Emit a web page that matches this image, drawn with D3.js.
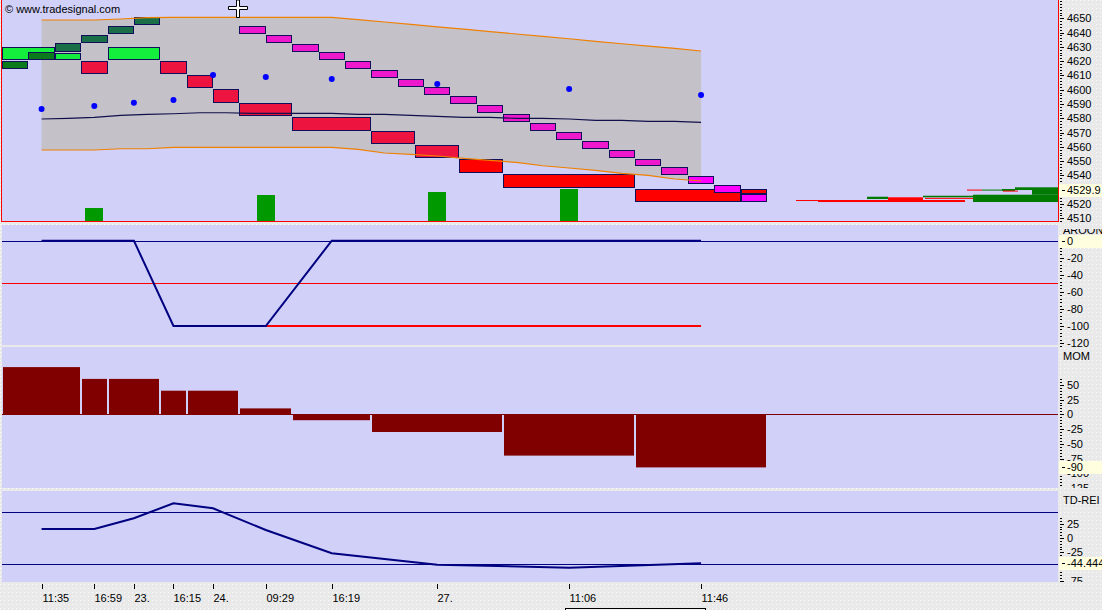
<!DOCTYPE html>
<html>
<head>
<meta charset="utf-8">
<script src="https://cdn.jsdelivr.net/npm/d3@7"></script>
<style>
  html, body { margin: 0; padding: 0; background: #e9e9e9; }
  svg { display: block; font-family: "Liberation Sans", Arial, sans-serif; font-size: 11px; }
</style>
</head>
<body>
<div id="chart"></div>
<script>
const W = 1102, H = 610;
const PLOT_L = 2, PLOT_R = 1058, AXIS_X = 1059;

// —— data ——
const timeSlots = [1.5, 3.5, 5, 6.5, 8, 10, 12.5, 16.5, 21.5, 26.5];
const timeLabels = ["11:35", "16:59", "23.", "16:15", "24.", "09:29", "16:19", "27.", "11:06", "11:46"];

// wide reversal boxes
const bigFrom = [0, 2, 3, 4, 6, 7, 8, 9, 11, 14, 15.65, 17.33, 19, 24, 28];
const bigTo = [2, 3, 4, 6, 7, 8, 9, 11, 14, 15.65, 17.33, 19, 24, 28, 29];
const bigLow = [4620.5, 4620.5, 4611, 4620.5, 4611, 4601, 4591, 4581.4, 4571.3, 4561.8, 4552, 4541.5, 4531, 4521.2, 4527.2];
const bigHigh = [4630, 4626, 4620, 4630, 4620, 4610.3, 4600.3, 4590.5, 4580.7, 4570.9, 4561.1, 4551.3, 4540.8, 4530.3, 4530.3];
const bigKind = ["up", "up", "down", "up", "down", "down", "down", "down", "down", "down", "down", "down2", "down2", "down2", "down2"];

// small step boxes (one slot wide)
const stepSlot = [0, 1, 2, 3, 4, 5, 9, 10, 11, 12, 13, 14, 15, 16, 17, 18, 19, 20, 21, 22, 23, 24, 25, 26, 27, 28];
const stepLow = [4614.2, 4620.6, 4626.6, 4632.7, 4638.8, 4645.1,
  4638.8, 4632.7, 4626.6, 4620.6, 4614.2, 4608.2, 4602.0, 4596.0, 4590.0, 4583.7,
  4577.4, 4571.1, 4564.8, 4558.5, 4552.2, 4546.4, 4540.3, 4534.0, 4527.7, 4521.2];
const stepHigh = [4620.1, 4626.2, 4632.5, 4638.3, 4644.4, 4650.7,
  4644.4, 4638.3, 4632.2, 4626.2, 4620.1, 4613.8, 4607.5, 4601.7, 4595.6, 4589.3,
  4583.0, 4576.7, 4570.4, 4564.1, 4557.8, 4551.5, 4545.9, 4539.6, 4533.3, 4527.0];
const stepKind = ["up1", "up1", "up2", "up2", "up2", "up2",
  "dn", "dn", "dn", "dn", "dn", "dn", "dn", "dn", "dn", "dn",
  "dn", "dn", "dn", "dn", "dn", "dn", "dn", "dn2", "dn2", "dn2"];

// envelope band
const bandSlots = [1.5, 2.5, 3.5, 4.5, 5.5, 6.5, 7.5, 8.5, 9.5, 10.5, 11.5, 12.5, 13.5,
  14.5, 15.5, 16.5, 17.5, 18.5, 19.5, 20.5, 21.5, 22.5, 23.5, 24.5, 25.5, 26.5];
const bandUpper = [4648.8, 4648.8, 4648.8, 4649.5, 4650.5, 4650.7, 4650.7, 4650.7, 4650.7, 4650.7, 4650.7, 4650.6, 4649.1,
  4647.4, 4645.7, 4644.0, 4642.4, 4640.7, 4639.0, 4637.3, 4635.7, 4633.9, 4632.2, 4630.5, 4628.9, 4627.1];
const bandLower = [4557.8, 4557.8, 4557.8, 4558.7, 4558.7, 4559.7, 4559.7, 4559.7, 4559.7, 4559.7, 4559.7, 4559.6, 4558.2,
  4555.7, 4554.8, 4553.6, 4551.9, 4550.5, 4549.1, 4546.8, 4545.2, 4543.5, 4541.4, 4540.0, 4537.5, 4536.1];
const bandMid = [4579.5, 4580.0, 4580.7, 4582.1, 4582.8, 4583.2, 4583.9, 4583.9, 4583.5, 4583.5, 4583.5, 4583.5, 4582.8,
  4582.7, 4582.1, 4581.4, 4580.7, 4580.7, 4580.0, 4580.0, 4579.5, 4578.6, 4578.6, 4577.9, 4577.9, 4577.2];

const dotValues = [4586.5, 4588.6, 4590.9, 4592.8, 4610.3, 4608.9, 4607.5, 4604.0, 4600.5, 4596.3];

const signalSlots = [3.5, 10, 16.5, 21.5];
const signalValues = [14, 27, 30, 33];

// price profile at right edge (distance from right border)
const profLow = [4522.2, 4521.4, 4523.5, 4522.6, 4524.7, 4523.8, 4521.4, 4526.5, 4529.8, 4529.1, 4528.9, 4529.6, 4529.6];
const profHigh = [4522.8, 4522.8, 4525.1, 4524.7, 4525.8, 4524.3, 4526.5, 4531.7, 4531.7, 4530.5, 4529.4, 4530.1, 4530.1];
const profFar = [262, 240, 191, 170, 135, 133, 85, 26, 43, 56, 55, 91, 76];
const profNear = [240, 93, 170, 135, 85, 85, 0, 0, 26, 43, 40, 76, 56];
const profKind = ["dn", "dn", "up", "dn", "up", "dn", "up", "up", "up", "up", "dn", "dn", "up"];

const aroonValues = [0, 0, 0, -100, -100, -100, 0, 0, 0, 0];
const aroonDown = [null, null, null, null, null, -100, -100, -100, -100, -100];

const momFrom = [0, 3, 4, 6, 7, 9, 11, 14, 19, 24];
const momTo = [3, 4, 6, 7, 9, 11, 14, 19, 24, 29];
const momValues = [80, 60, 60, 40, 40, 10, -10, -30, -70, -90];

const reiValues = [15.8, 15.8, 34.6, 60.9, 52.1, 14, -26.8, -46.8, -52.1, -44.444];

const mainTicks = [4650, 4640, 4630, 4620, 4610, 4600, 4590, 4580, 4570, 4560, 4550, 4540, 4520, 4510];
const aroonTicks = [-20, -40, -60, -80, -100, -120];
const momTicks = [50, 25, 0, -25, -50, -75, -100, -125];
const reiTicks = [25, 0, -25, -75];

const COLORS = {
  bg: "#d0d0f8",
  band: "#c4c1c9",
  orange: "#f08000",
  navy: "#000080",
  mid: "#10104a",
  edge: "#10105a",
  up: "#14ee3c",
  down: "#ee1440",
  down2: "#ff0000",
  up1: "#0a7a1c",
  up2: "#1a6e48",
  dn: "#ee18cc",
  dn2: "#ff00ff",
  profUp: "#007a00",
  profDn: "#ff0000",
  signal: "#009a00",
  mom: "#800000",
  red: "#ff0000",
};

const PANELS = {
  main: { y0: 0, y1: 222 },
  aroon: { y0: 225, y1: 345 },
  mom: { y0: 347, y1: 488 },
  rei: { y0: 491, y1: 582 },
};

// —— scales ——
const x = d3.scaleLinear().domain([0, 29]).range([2, 767]);
const yMain = d3.scaleLinear().domain([4510, 4650]).range([218.3, 18.3]);
const yAroon = d3.scaleLinear().domain([0, -100]).range([240.7, 326]);
const yMom = d3.scaleLinear().domain([0, -100]).range([414.3, 473.3]);
const yRei = d3.scaleLinear().domain([0, -100]).range([538, 595]);
const ySignal = d3.scaleLinear().domain([0, 50]).range([222, 172]);
const xProf = d3.scaleLinear().domain([0, 300]).range([PLOT_R, PLOT_R - 300]);

const svg = d3.select("#chart").append("svg")
  .attr("width", W).attr("height", H)
  .attr("viewBox", `0 0 ${W} ${H}`);

// dotted grey background for axis areas
const defs = svg.append("defs");
const pat = defs.append("pattern").attr("id", "dots")
  .attr("width", 4).attr("height", 4).attr("patternUnits", "userSpaceOnUse");
pat.append("rect").attr("width", 4).attr("height", 4).attr("fill", "#e9e9e9");
pat.append("rect").attr("width", 1).attr("height", 1).attr("fill", "#fbfbfb");

svg.append("rect").attr("width", W).attr("height", H).attr("fill", "url(#dots)");

// panel backgrounds + clips
Object.entries(PANELS).forEach(([key, p]) => {
  svg.append("rect")
    .attr("x", PLOT_L).attr("y", p.y0)
    .attr("width", PLOT_R - PLOT_L).attr("height", p.y1 - p.y0)
    .attr("fill", COLORS.bg);
  defs.append("clipPath").attr("id", `clip-${key}`)
    .append("rect").attr("x", PLOT_L).attr("y", p.y0)
    .attr("width", PLOT_R - PLOT_L).attr("height", p.y1 - p.y0);
  defs.append("clipPath").attr("id", `clipax-${key}`)
    .append("rect").attr("x", AXIS_X).attr("y", p.y0 + (key === "aroon" ? 4 : 0))
    .attr("width", W - AXIS_X).attr("height", p.y1 - p.y0);
});

function boxRect(g, x0, x1, lo, hi, fill) {
  const px0 = Math.round(x(x0)), px1 = Math.round(x(x1));
  const py0 = Math.round(yMain(hi)), py1 = Math.round(yMain(lo));
  g.append("rect")
    .attr("x", px0 + 0.5).attr("y", py0 + 0.5)
    .attr("width", px1 - px0 - 1).attr("height", py1 - py0 - 1)
    .attr("fill", fill).attr("stroke", COLORS.edge).attr("stroke-width", 1)
    .attr("shape-rendering", "crispEdges");
}

// —— Main panel ——
const gMain = svg.append("g").attr("clip-path", "url(#clip-main)");

const band = bandSlots.map((s, i) => ({ s, u: bandUpper[i], l: bandLower[i], m: bandMid[i] }));

gMain.append("path").datum(band)
  .attr("fill", COLORS.band)
  .attr("d", d3.area().x((d) => x(d.s)).y0((d) => yMain(d.l)).y1((d) => yMain(d.u)));

bigFrom.forEach((f, i) => boxRect(gMain, f, bigTo[i], bigLow[i], bigHigh[i], COLORS[bigKind[i]]));
stepSlot.forEach((s, i) => boxRect(gMain, s, s + 1, stepLow[i], stepHigh[i], COLORS[stepKind[i]]));

const bandLine = (key, color) =>
  gMain.append("path").datum(band)
    .attr("fill", "none").attr("stroke", color).attr("stroke-width", 1.2)
    .attr("d", d3.line().x((d) => x(d.s)).y((d) => yMain(d[key])));
bandLine("u", COLORS.orange);
bandLine("l", COLORS.orange);
bandLine("m", COLORS.mid);

gMain.selectAll(".dot")
  .data(timeSlots.map((s, i) => ({ s, v: dotValues[i] })))
  .join("circle")
  .attr("cx", (d) => x(d.s)).attr("cy", (d) => yMain(d.v))
  .attr("r", 3).attr("fill", "#0000ff");

gMain.selectAll(".signal")
  .data(signalSlots.map((s, i) => ({ s, v: signalValues[i] })))
  .join("rect")
  .attr("x", (d) => Math.round(x(d.s)) - 9).attr("width", 18)
  .attr("y", (d) => ySignal(d.v)).attr("height", (d) => ySignal(0) - ySignal(d.v))
  .attr("fill", COLORS.signal);

profLow.forEach((lo, i) => {
  const y0 = yMain(profHigh[i]), y1 = yMain(lo);
  gMain.append("rect")
    .attr("x", xProf(profFar[i])).attr("width", xProf(profNear[i]) - xProf(profFar[i]))
    .attr("y", y0).attr("height", Math.max(1, y1 - y0))
    .attr("fill", profKind[i] === "up" ? COLORS.profUp : COLORS.profDn);
});

// red frame of the price panel
svg.append("path")
  .attr("d", `M1.5,0 V221.5 H${PLOT_R + 0.5} V0`)
  .attr("fill", "none").attr("stroke", COLORS.red).attr("stroke-width", 1)
  .attr("shape-rendering", "crispEdges");

svg.append("text").attr("x", 5).attr("y", 13).attr("fill", "#000")
  .text("© www.tradesignal.com");

// mouse cross
svg.append("path")
  .attr("d", "M236.5,0 h3 v6.5 h8 v3 h-8 v8 h-3 v-8 h-8 v-3 h8 z")
  .attr("fill", "#fff").attr("stroke", "#000").attr("stroke-width", 1);

// —— Aroon panel ——
const gAroon = svg.append("g").attr("clip-path", "url(#clip-aroon)");
const hLine = (g, yPos, color) =>
  g.append("line").attr("x1", PLOT_L).attr("x2", PLOT_R)
    .attr("y1", Math.round(yPos) + 0.5).attr("y2", Math.round(yPos) + 0.5)
    .attr("stroke", color).attr("stroke-width", 1).attr("shape-rendering", "crispEdges");

hLine(gAroon, yAroon(0), COLORS.navy);
hLine(gAroon, yAroon(-50), COLORS.red);

const aroonPts = timeSlots.map((s, i) => ({ s, v: aroonValues[i], d: aroonDown[i] }));
gAroon.append("path").datum(aroonPts)
  .attr("fill", "none").attr("stroke", COLORS.red).attr("stroke-width", 2)
  .attr("d", d3.line().defined((d) => d.d != null).x((d) => x(d.s)).y((d) => yAroon(d.d)));
gAroon.append("path").datum(aroonPts)
  .attr("fill", "none").attr("stroke", COLORS.navy).attr("stroke-width", 2)
  .attr("d", d3.line().x((d) => x(d.s)).y((d) => yAroon(d.v)));

// —— MOM panel ——
const gMom = svg.append("g").attr("clip-path", "url(#clip-mom)");
gMom.selectAll(".mom")
  .data(momValues.map((v, i) => ({ v, f: momFrom[i], t: momTo[i] })))
  .join("rect")
  .attr("x", (d) => Math.round(x(d.f)) + 1)
  .attr("width", (d) => Math.round(x(d.t)) - Math.round(x(d.f)) - 2)
  .attr("y", (d) => (d.v >= 0 ? yMom(d.v) : Math.round(yMom(0)) + 1))
  .attr("height", (d) => (d.v >= 0 ? Math.round(yMom(0)) - yMom(d.v) : yMom(d.v) - Math.round(yMom(0)) - 1))
  .attr("fill", COLORS.mom);
hLine(gMom, yMom(0), COLORS.mom);

// —— TD-REI panel ——
const gRei = svg.append("g").attr("clip-path", "url(#clip-rei)");
hLine(gRei, yRei(45), COLORS.navy);
hLine(gRei, yRei(-45), COLORS.navy);
gRei.append("path").datum(timeSlots.map((s, i) => ({ s, v: reiValues[i] })))
  .attr("fill", "none").attr("stroke", COLORS.navy).attr("stroke-width", 2)
  .attr("d", d3.line().x((d) => x(d.s)).y((d) => yRei(d.v)));

// —— right axes ——
function rightAxis(key, scale, majors, minorStep, vLo, vHi, title, titleY, current, fmt) {
  const g = svg.append("g").attr("clip-path", `url(#clipax-${key})`);
  for (let v = vLo; v <= vHi + 1e-9; v += minorStep) {
    const yy = Math.round(scale(v)) + 0.5;
    g.append("line").attr("x1", AXIS_X + 1).attr("x2", AXIS_X + 3)
      .attr("y1", yy).attr("y2", yy).attr("stroke", "#000").attr("shape-rendering", "crispEdges");
  }
  majors.forEach((v) => {
    const yy = Math.round(scale(v)) + 0.5;
    g.append("line").attr("x1", AXIS_X + 1).attr("x2", AXIS_X + 5)
      .attr("y1", yy).attr("y2", yy).attr("stroke", "#000").attr("shape-rendering", "crispEdges");
    g.append("text").attr("x", AXIS_X + 8).attr("y", scale(v)).attr("dy", "0.36em")
      .attr("fill", "#000").text(v);
  });
  if (title) {
    g.append("text").attr("x", AXIS_X + 4).attr("y", titleY).attr("fill", "#000").text(title);
  }
  if (current != null) {
    const yy = scale(current);
    g.append("rect").attr("x", AXIS_X).attr("y", Math.round(yy) - 6)
      .attr("width", W - AXIS_X).attr("height", 13).attr("fill", "#ffffe0");
    g.append("line").attr("x1", AXIS_X + 3).attr("x2", AXIS_X + 6)
      .attr("y1", Math.round(yy) + 0.5).attr("y2", Math.round(yy) + 0.5)
      .attr("stroke", "#000").attr("shape-rendering", "crispEdges");
    g.append("text").attr("x", AXIS_X + 8).attr("y", yy).attr("dy", "0.36em")
      .attr("fill", "#000").text(fmt);
  }
}

rightAxis("main", yMain, mainTicks, 2, 4506, 4662, null, 0, 4529.9, "4529.9");
rightAxis("aroon", yAroon, aroonTicks, 4, -124, 0, "AROON", 234, 0, "0");
rightAxis("mom", yMom, momTicks, 5, -130, 62, "MOM", 360, -90, "-90");
rightAxis("rei", yRei, reiTicks, 5, -80, 38, "TD-REI", 504, -44.444, "-44.444");

// —— time axis ——
const gTime = svg.append("g");
timeSlots.forEach((s, i) => {
  const xx = Math.round(x(s)) + 0.5;
  gTime.append("line").attr("x1", xx).attr("x2", xx).attr("y1", 584).attr("y2", 589)
    .attr("stroke", "#000").attr("shape-rendering", "crispEdges");
  gTime.append("text").attr("x", xx).attr("y", 602).attr("fill", "#000").text(timeLabels[i]);
});

gTime.append("rect").attr("x", 565.5).attr("y", 608.5).attr("width", 140).attr("height", 8)
  .attr("fill", "#f4f4f4").attr("stroke", "#000").attr("shape-rendering", "crispEdges");
</script>
</body>
</html>
